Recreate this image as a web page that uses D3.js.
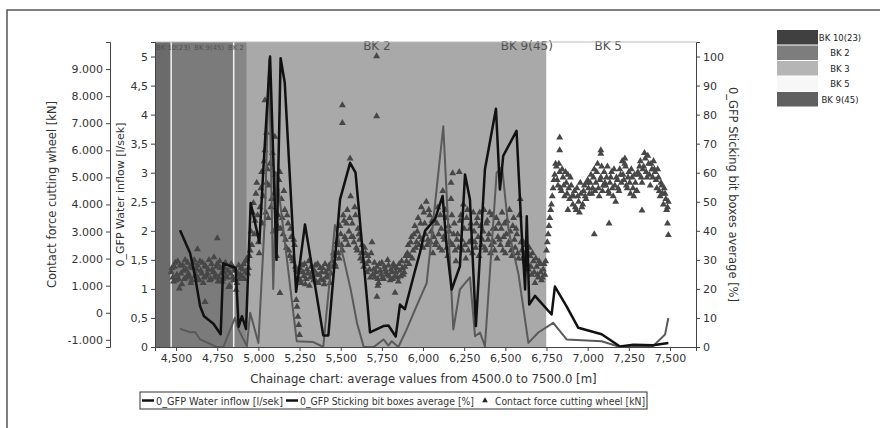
<!DOCTYPE html>
<html>
<head>
<meta charset="utf-8">
<script src="https://cdn.jsdelivr.net/npm/d3@7"></script>
<style>
  body { margin: 0; background: #fff; }
  svg text { font-family: "DejaVu Sans", sans-serif; fill: #333; }
  .axis path, .axis line { stroke: #444; }
</style>
</head>
<body>
<svg id="chart" width="880" height="428"></svg>
<script>
// ---- data ----
const xTicks = [4500, 4750, 5000, 5250, 5500, 5750, 6000, 6250, 6500, 6750, 7000, 7250, 7500];

// geology bands along the chainage
const bandNames = ["BK 10(23)", "BK 9(45)", "BK 2", "BK 2", "BK 9(45)", "BK 5"];
const bandStart = [4372, 4470, 4850, 4930, 6510, 6750];
const bandEnd   = [4470, 4850, 4930, 6510, 6750, 7500];
const legendNames = ["BK 10(23)", "BK 2", "BK 3", "BK 5", "BK 9(45)"];

// 0_GFP Water inflow [l/sek]
const waterChainage = [4524, 4585, 4615, 4646, 4670, 4727, 4771, 4787, 4862, 4880, 4900, 4925, 4953, 5006, 5030, 5071, 5110, 5135, 5160, 5229, 5283, 5394, 5425, 5496, 5557, 5590, 5678, 5759, 5790, 5834, 5860, 5890, 5950, 5981, 6012, 6073, 6119, 6143, 6174, 6224, 6255, 6285, 6321, 6376, 6443, 6467, 6487, 6568, 6598, 6620, 6630, 6645, 6680, 6781, 6801, 6872, 6943, 7085, 7196, 7277, 7397, 7490];
const waterInflow   = [2.01, 1.62, 1.22, 0.70, 0.53, 0.40, 0.22, 1.44, 1.36, 0.35, 0.53, 0.31, 2.48, 1.80, 3.06, 5.0, 1.5, 4.97, 4.55, 0.95, 2.11, 0.2, 0.2, 2.54, 3.17, 3.0, 0.25, 0.36, 0.37, 0.18, 0.73, 0.65, 1.3, 1.62, 2.0, 2.2, 2.6, 1.74, 0.99, 1.39, 2.97, 2.54, 0.36, 3.06, 4.10, 2.71, 3.29, 3.72, 2.02, 0.99, 2.25, 0.73, 0.88, 0.56, 1.04, 0.70, 0.33, 0.22, 0.01, 0.04, 0.03, 0.07];

// 0_GFP Sticking bit boxes average [%]
const stickChainage = [4524, 4585, 4615, 4646, 4747, 4787, 4858, 4879, 4930, 4950, 5000, 5040, 5065, 5090, 5110, 5233, 5334, 5394, 5465, 5520, 5560, 5600, 5640, 5700, 5760, 5790, 5810, 5850, 5900, 5960, 6022, 6123, 6184, 6224, 6285, 6316, 6346, 6376, 6447, 6480, 6520, 6580, 6640, 6700, 6791, 6872, 7085, 7196, 7397, 7470, 7490];
const stickingBits  = [6.3, 5.1, 5.2, 2.6, 0, 0, 10.1, 6.0, 0.3, 11.8, 1.4, 45, 99, 20, 60, 2, 1.7, 0, 42, 30, 20, 8, 0, 0, 2.6, 0.5, 2, 0, 6, 14, 22, 76, 6, 19.8, 24, 3.7, 5, 0.3, 60, 62, 40, 25, 1.4, 5, 8.3, 2.6, 2, 0, 0.3, 4.3, 10];

// Contact force cutting wheel [kN]: readings every 10 m from 4470 m ...
const forceStartA = 4470, forceStep = 10;
const contactForceA = [
  1500,1300,1700,1200,1900,900,1450,1750,1250,1600,1850,1350,1100,1650,1950,1400,1750,1200,1550,1850,1300,1700,1450,1950,1250,1600,2050,1400,1800,1300,1650,1150,1500,1850,1300,950,1450,1700,1200,1550,1100,1750,1400,
  1350,1800,1500,2000,1650,2300,
  2500,4050,3400,4800,2600,
  3900,5200,4300,6000,4800,
  3500,5500,4200,3000,6500,4600,3600,5200,
  4200,2900,3800,2400,3300,2100,2800,1900,2500,1600,
  1300,1650,1100,1500,1800,1250,1450,1000,1700,1350,1550,1150,1800,1400,1250,1650,1050,1500,1300,1750,1450,1900,
  2100,1700,2500,2000,2900,2300,3400,2700,3800,3000,4300,
  3300,2600,3600,2300,2900,2000,2500,1700,2200,1500,1900,1300,2600,1600,
  1300,1700,1100,1550,1850,1250,1600,1400,1750,1200,1500,1800,1350,1650,1150,1550,1900,1400,1700,
  1900,2500,2100,2800,2300,3200,2600,3500,2800,3900,2400,3300,4100,2700,3600,3000,
  2200,3400,2600,3900,2400,3100,4500,2700,3500,2100,3000,4200,2500,3300,1900,
  2900,5200,3600,2300,3100,2000,3800,2600,3300,2200,
  3000,2400,3500,2100,3200,2700,3800,2300,3400,2900,2200,3600,2600,3100,2000,
  3300,2500,3700,2800,2200,3400,2600,3000,2100,3500,2400,2900,2000,4200,2300,
  2600,1900,2300,1600,2100,1400,1900,1100,1700,1300,1800,1200,1600,1400,
  2300,2900,3500,4000,4600,5100,
  5400,4700,5200,4500,5000,4300,4800,5100,4200,4700,
  4000,4500,3800,4300,3700,4400,4000,4700,4200,4900,
  4400,5100,4600,5300,4800,5500,4300,5000,4500,5200,
  4700,5400,4400,5000,4600,5300,4100,4900,4500,5100,
  5600,4900,5400,4600,5200,4400,5000,4300,4800,4500,
  5100,5600,4800,5400,5700,5000,5500,4700,5300,5600,
  5200,4600,5000,4300,4700,4000,4400,3800,4100
];
// ... and the readings in between, from 4475 m
const forceStartB = 4475;
const contactForceB = [
  1650,1150,1850,1400,1250,1750,1050,1550,1950,1300,1450,1700,1200,1850,1350,1600,1250,1900,1450,1100,1750,1350,1600,1200,1800,1500,1300,1700,1150,1900,1450,1250,1650,1350,1550,1000,1800,1300,1600,850,1450,1250,1650,
  1600,1250,1900,1450,2100,3000,
  3700,2900,4400,3600,2200,
  4600,3300,5600,3700,5300,
  4700,3900,5900,4400,5100,3200,4900,3100,
  3500,4500,2700,3600,2300,3100,2000,2700,1700,1500,
  1550,1200,1750,1350,1050,1600,1900,1300,1500,1200,1750,1400,1100,1650,1500,1200,1800,1350,1600,1100,1700,2200,
  1800,2600,2200,3200,2500,3600,2800,3300,2500,3500,2800,
  2800,3900,2400,3100,2700,2200,1900,2400,1800,2100,1600,2200,1400,1850,
  1500,1250,1800,1400,1300,1700,1500,1950,1350,1600,1250,1700,1500,1300,1800,1350,1650,1500,2100,
  2200,1800,2600,2000,2900,2400,3000,2500,3300,2700,3700,2900,2500,3800,2600,3400,
  2800,2500,3300,2900,3600,2300,2800,3800,2400,3200,2600,3600,2900,2300,2700,
  2400,3400,2700,4000,2500,3500,2300,3100,2700,3700,
  2600,3300,2800,3700,2500,3000,2400,3300,2700,3700,2500,3100,2300,3500,2800,
  2700,3100,2300,3300,2900,2500,3800,2300,3200,2700,3100,2200,3600,2600,2000,
  2100,2500,1800,2400,1700,2200,1500,2000,1400,1900,1500,1300,1800,1900,
  2600,3200,3800,4300,4900,5500,
  4900,5500,4600,5300,4700,5200,4400,4600,5000,4300,
  4300,3900,4600,4100,4800,3900,4500,4300,4800,4600,
  4800,4400,5000,4500,5200,4600,4900,5400,4700,4800,
  5000,4500,4800,5200,4300,4700,5000,4600,5300,4800,
  5100,5500,4700,5000,4800,5300,4600,5100,4500,5200,
  5400,5000,5300,5900,5200,5800,5100,5500,5000,5300,
  4900,5300,4500,4800,4400,4600,4200,3900
];
// isolated readings away from the main cloud
const outlierChainage = [4630, 4750, 4676, 5040, 5050, 5131, 5110, 5230, 5235, 5240, 5245, 5250, 5510, 5510, 5557, 5718, 5718, 5720, 5725, 5830, 6170, 6180, 6830, 6830, 6880, 7040, 7080, 7080, 7130, 7226, 7330, 7485, 7490];
const outlierForce    = [2350, 2750, 400, 7850, 6650, 730, 2100, 470, 220, -150, -450, -820, 7660, 7010, 5700, 9470, 7260, 590, 1000, 740, 4800, 5150, 6470, 6000, 3800, 2900, 6000, 5870, 3300, 5700, 3780, 3300, 2870];

// ---- styling ----
const bandShade = ["#6b6b6b", "#7b7b7b", "#868686", "#a9a9a9", "#a9a9a9", "#ffffff"];
const legendShade = d3.scaleOrdinal().domain(legendNames).range(["#404040", "#7d7d7d", "#b5b5b5", "#f7f7f7", "#606060"]);

const plot = {left: 155, right: 696, top: 42, bottom: 347};
const svg = d3.select("#chart");

// frame
svg.append("path")
  .attr("d", "M7,428 V10 H880")
  .attr("fill", "none").attr("stroke", "#555").attr("stroke-width", 1.5);

// scales
const x = d3.scaleLinear().domain([4372, 7658]).range([plot.left, plot.right]);
const yWater = d3.scaleLinear().domain([0, 5.25]).range([plot.bottom, plot.top]);
const yStick = d3.scaleLinear().domain([0, 105]).range([plot.bottom, plot.top]);
const yForce = d3.scaleLinear().domain([-1265, 10000]).range([plot.bottom, plot.top]);

const de = d3.formatLocale({decimal: ",", thousands: ".", grouping: [3], currency: ["", ""], minus: "-"});

svg.append("clipPath").attr("id", "clip")
  .append("rect")
  .attr("x", plot.left).attr("y", plot.top)
  .attr("width", plot.right - plot.left).attr("height", plot.bottom - plot.top);

const g = svg.append("g").attr("clip-path", "url(#clip)");

// bands
const bands = bandNames.map((n, i) => ({name: n, from: bandStart[i], to: bandEnd[i], shade: bandShade[i]}));
g.selectAll("rect.band")
  .data(bands)
  .join("rect")
    .attr("class", "band")
    .attr("x", d => x(d.from))
    .attr("y", plot.top)
    .attr("width", d => x(d.to) - x(d.from))
    .attr("height", plot.bottom - plot.top)
    .attr("fill", d => d.shade);

// thin light seams between the first bands
g.selectAll("line.seam")
  .data(bands.slice(1, 3))
  .join("line")
    .attr("class", "seam")
    .attr("x1", d => x(d.from)).attr("x2", d => x(d.from))
    .attr("y1", plot.top).attr("y2", plot.bottom)
    .attr("stroke", "#f2f2f2").attr("stroke-width", 1.5);

// band names along the top edge
const labelG = svg.append("g");
const mainIdx = d3.maxIndex(bands, d => d.to - d.from);
const narrow = bands.slice(0, mainIdx);   // short bands before the long one
const wide = bands.slice(mainIdx);

labelG.selectAll("text.wide")
  .data(wide)
  .join("text")
    .attr("class", "wide")
    .attr("x", d => x((d.from + d.to) / 2))
    .attr("y", plot.top + 8)
    .attr("text-anchor", "middle")
    .style("font-size", "12px")
    .style("fill", "#505050")
    .text(d => d.name);

// short bands at the left: names packed side by side, font shrunk to fit
const narrowEnd = x(bands[mainIdx].from);
const narrowText = labelG.selectAll("text.narrow")
  .data(narrow)
  .join("text")
    .attr("class", "narrow")
    .attr("y", plot.top + 8)
    .style("font-size", "12px")
    .style("fill", "#505050")
    .text(d => d.name);
const gap = 4;
const natural = narrowText.nodes().map(n => n.getComputedTextLength());
const squeeze = Math.min(1, (narrowEnd - plot.left - gap * narrow.length) / d3.sum(natural));
narrowText.style("font-size", `${12 * squeeze}px`);
let cursor = plot.left + 1;
narrowText.each(function() {
  d3.select(this).attr("x", cursor);
  cursor += this.getComputedTextLength() + gap;
});

// top rule
svg.append("line")
  .attr("x1", plot.left).attr("x2", plot.right)
  .attr("y1", plot.top).attr("y2", plot.top)
  .attr("stroke", "#bbb");

// contact force triangles
const forcePts = contactForceA.map((v, i) => ({c: forceStartA + i * forceStep, v}))
  .concat(contactForceB.map((v, i) => ({c: forceStartB + i * forceStep, v})))
  .concat(outlierChainage.map((c, i) => ({c, v: outlierForce[i]})));
const tri = d3.symbol(d3.symbolTriangle, 21);
g.selectAll("path.force")
  .data(forcePts)
  .join("path")
    .attr("class", "force")
    .attr("d", tri)
    .attr("transform", d => `translate(${x(d.c)},${yForce(d.v)})`)
    .attr("fill", "#474747");

// sticking bit boxes line
const stickLine = d3.line().x(d => x(d[0])).y(d => yStick(d[1]));
g.append("path")
  .datum(stickChainage.map((c, i) => [c, stickingBits[i]]))
  .attr("d", stickLine)
  .attr("fill", "none").attr("stroke", "#5a5a5a").attr("stroke-width", 2).attr("stroke-linejoin", "round");

// water inflow line
const waterLine = d3.line().x(d => x(d[0])).y(d => yWater(d[1]));
g.append("path")
  .datum(waterChainage.map((c, i) => [c, waterInflow[i]]))
  .attr("d", waterLine)
  .attr("fill", "none").attr("stroke", "#111").attr("stroke-width", 2.5).attr("stroke-linejoin", "round");

// axes
svg.append("g").attr("class", "axis")
  .attr("transform", `translate(0,${plot.bottom})`)
  .call(d3.axisBottom(x).tickValues(xTicks).tickFormat(d3.format(",")).tickSizeOuter(0).tickSize(4));

svg.append("g").attr("class", "axis")
  .attr("transform", `translate(${plot.left},0)`)
  .call(d3.axisLeft(yWater).tickValues(d3.range(0, 5.01, 0.5)).tickFormat(de.format("~r")).tickSizeOuter(0).tickSize(4));

svg.append("g").attr("class", "axis")
  .attr("transform", `translate(110,0)`)
  .call(d3.axisLeft(yForce).tickValues(d3.range(-1000, 9001, 1000)).tickFormat(de.format(",")).tickSizeOuter(0).tickSize(4));

svg.append("g").attr("class", "axis")
  .attr("transform", `translate(${plot.right},0)`)
  .call(d3.axisRight(yStick).tickValues(d3.range(0, 101, 10)).tickSizeOuter(0).tickSize(4));

svg.selectAll(".axis text").style("font-size", "11px").style("fill", "#333");

// axis titles
const midY = (plot.top + plot.bottom) / 2;
svg.append("text")
  .attr("transform", `translate(56,${midY}) rotate(-90)`)
  .attr("text-anchor", "middle").style("font-size", "11.5px")
  .text("Contact force cutting wheel [kN]");
svg.append("text")
  .attr("transform", `translate(124,${midY}) rotate(-90)`)
  .attr("text-anchor", "middle").style("font-size", "11px")
  .text("0_GFP Water inflow [l/sek]");
svg.append("text")
  .attr("transform", `translate(729,${midY}) rotate(90)`)
  .attr("text-anchor", "middle").style("font-size", "11.5px")
  .text("0_GFP Sticking bit boxes average [%]");
svg.append("text")
  .attr("x", (plot.left + plot.right) / 2 - 2).attr("y", 383)
  .attr("text-anchor", "middle").style("font-size", "11.7px")
  .text("Chainage chart: average values from 4500.0 to 7500.0 [m]");

// band legend (right)
const bl = svg.append("g").attr("transform", "translate(777,30)");
const blRow = bl.selectAll("g").data(legendNames).join("g")
  .attr("transform", (d, i) => `translate(0,${i * 15.5})`);
blRow.append("rect").attr("width", 41).attr("height", 14.5).attr("fill", d => legendShade(d));
blRow.append("text").attr("x", 63).attr("y", 10.5).attr("text-anchor", "middle")
  .style("font-size", "8.5px").style("fill", "#222").text(d => d);

// series legend (bottom)
const lg = svg.append("g").attr("transform", "translate(140,392)");
lg.append("rect").attr("width", 507).attr("height", 17).attr("fill", "#fff").attr("stroke", "#333");
const items = [
  {label: "0_GFP Water inflow [l/sek]", kind: "line", x: 2, w: 127},
  {label: "0_GFP Sticking bit boxes average [%]", kind: "line", x: 146, w: 174},
  {label: "Contact force cutting wheel [kN]", kind: "tri", x: 341, w: 150}
];
const it = lg.selectAll("g").data(items).join("g").attr("transform", d => `translate(${d.x},0)`);
it.filter(d => d.kind === "line").append("line")
  .attr("x1", 0).attr("x2", 12).attr("y1", 8.5).attr("y2", 8.5)
  .attr("stroke", "#111").attr("stroke-width", 2.5);
it.filter(d => d.kind === "tri").append("path")
  .attr("d", d3.symbol(d3.symbolTriangle, 14)).attr("transform", "translate(4,8.5)").attr("fill", "#222");
it.append("text").attr("x", 14).attr("y", 12.5)
  .attr("textLength", d => d.w).attr("lengthAdjust", "spacingAndGlyphs")
  .style("font-size", "10px").text(d => d.label);
</script>
</body>
</html>
